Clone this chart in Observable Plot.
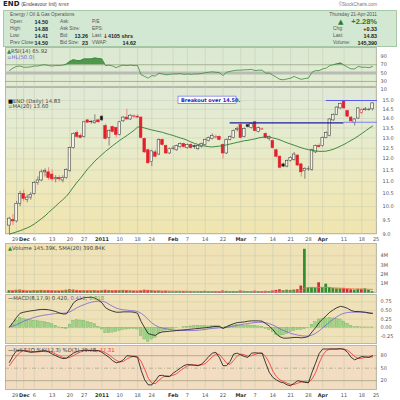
<!DOCTYPE html>
<html><head><meta charset="utf-8">
<script src="https://cdn.jsdelivr.net/npm/d3@7"></script>
<script src="https://cdn.jsdelivr.net/npm/@observablehq/plot@0.6"></script>
<style>
body{margin:0;background:#fff;}
#c{position:relative;width:400px;height:400px;overflow:hidden;font-family:"DejaVu Sans",Verdana,sans-serif;background:#fff;}
.a{position:absolute;white-space:nowrap;font-size:5.3px;line-height:6px;color:#444;}
.h{font-family:"Liberation Sans",Arial,sans-serif;font-size:4.8px;color:#555;}
.v{font-family:"Liberation Sans",Arial,sans-serif;font-size:5.4px;font-weight:bold;color:#222;}
.bg{position:absolute;box-sizing:border-box;}
</style></head><body><div id="c"></div>
<script>
// ---------- data ----------
const tickIdx=[2,4,7,12,17,21,26,31,36,40,46,50,55,60,65,69,74,79,84,88,94,99,103];
const tickLblPos=[1.6,4.2,7,12,17,21,26,31,36,40,46,50,55,60,65,69,74,79,84,88,94,99,103];
const tickLbl=["29","Dec","6","13","20","27","2011","10","18","24","Feb","7","14","22","Mar","7","14","21","28","Apr","11","18","25"];
const tickBold=[0,1,0,0,0,0,1,0,0,0,1,0,0,0,1,0,0,0,0,1,0,0,0];

const open=[9.30,9.50,9.45,10.10,10.50,10.25,10.35,10.50,10.95,11.05,
11.40,11.40,11.30,11.10,11.15,11.05,11.15,11.45,12.50,13.25,
13.10,13.05,13.90,13.80,13.75,13.90,14.10,13.60,13.00,13.55,
13.50,13.15,13.85,14.05,13.95,14.10,14.10,14.05,12.95,12.40,
11.85,12.30,12.20,12.90,12.60,12.25,12.50,12.40,12.55,12.70,
12.50,12.65,12.60,12.45,12.55,12.65,12.85,12.95,13.05,13.05,
12.65,12.25,12.90,13.00,13.40,13.65,13.05,13.65,13.50,13.80,
13.30,13.45,13.20,12.95,12.85,12.40,12.10,11.75,11.65,11.90,
11.95,12.15,11.75,11.45,11.55,11.50,12.30,12.60,12.60,13.00,
13.10,13.90,14.20,14.55,14.95,14.40,14.05,13.75,14.00,14.30,
14.45,14.50,14.50];
const high=[9.60,9.70,10.20,10.60,10.65,10.45,10.55,11.00,11.20,11.50,
11.55,11.60,11.50,11.25,11.25,11.25,11.55,12.55,13.25,13.35,
13.20,13.85,13.95,13.90,14.20,13.95,14.15,13.70,13.40,13.60,
13.55,13.85,14.10,14.50,14.20,14.20,14.20,14.10,13.00,12.45,
12.40,12.40,12.95,12.95,12.65,12.50,12.60,12.65,12.75,12.75,
12.70,12.70,12.65,12.65,12.75,12.95,13.05,13.20,13.15,13.10,
12.70,12.95,13.10,13.40,13.55,13.75,13.50,13.70,13.75,13.85,
13.55,13.50,13.25,13.10,12.90,12.45,12.15,11.80,11.95,12.10,
12.30,12.20,11.80,11.60,11.65,12.45,12.65,12.70,13.05,13.30,
14.00,14.25,14.65,14.85,15.00,14.45,14.10,14.00,14.60,14.55,
14.60,14.55,14.88];
const low=[9.00,9.30,9.40,10.00,10.20,10.15,10.25,10.45,10.85,11.00,
11.20,11.05,11.00,10.95,11.00,10.95,11.10,11.40,12.45,12.95,
12.95,13.00,13.75,13.70,13.70,13.75,13.85,12.90,12.60,13.25,
13.00,13.10,13.80,13.90,13.90,14.00,14.00,12.95,12.25,11.75,
11.65,12.05,12.15,12.60,12.20,12.20,12.40,12.35,12.50,12.50,
12.45,12.45,12.45,12.40,12.50,12.60,12.80,12.90,12.95,12.85,
12.00,12.20,12.85,12.95,13.30,12.95,13.00,13.50,13.45,13.30,
13.25,13.40,12.95,12.85,12.45,12.05,11.55,11.60,11.60,11.85,
11.90,11.65,11.20,11.10,11.45,11.45,12.25,12.50,12.55,12.95,
13.05,13.85,14.15,14.50,14.50,14.05,13.80,13.60,13.95,14.20,
14.40,14.40,14.41];
const close=[9.55,9.45,10.10,10.50,10.30,10.35,10.45,10.95,11.05,11.40,
11.45,11.15,11.10,11.15,11.10,11.15,11.50,12.50,13.20,13.05,
13.00,13.80,13.78,13.82,13.85,13.80,13.90,12.95,13.35,13.30,
13.15,13.80,14.05,13.95,14.15,14.12,14.05,13.00,12.30,11.80,
12.35,12.10,12.90,12.65,12.25,12.45,12.50,12.60,12.70,12.55,
12.65,12.50,12.55,12.60,12.70,12.90,13.00,13.10,13.05,12.90,
12.25,12.90,13.05,13.35,13.45,13.00,13.45,13.55,13.70,13.35,
13.50,13.45,13.00,13.05,12.50,12.10,11.60,11.65,11.90,12.05,
12.20,11.70,11.40,11.55,11.55,12.40,12.60,12.55,13.00,13.25,
13.95,14.20,14.60,14.80,14.55,14.10,13.85,13.95,14.55,14.45,
14.50,14.50,14.83];
const ma20=[9.00,9.04,9.08,9.12,9.17,9.22,9.28,9.36,9.45,9.55,
9.65,9.78,9.90,10.02,10.15,10.27,10.40,10.58,10.78,10.98,
11.15,11.35,11.55,11.72,11.90,12.05,12.20,12.35,12.48,12.62,
12.75,12.88,13.00,13.12,13.25,13.38,13.55,13.55,13.50,13.45,
13.40,13.36,13.32,13.28,13.22,13.17,13.12,13.06,13.00,12.95,
12.88,12.80,12.73,12.68,12.63,12.60,12.57,12.56,12.58,12.60,
12.62,12.66,12.70,12.74,12.78,12.82,12.86,12.88,12.92,12.95,
13.00,13.03,13.05,13.04,13.00,12.96,12.90,12.83,12.76,12.70,
12.64,12.58,12.52,12.47,12.43,12.40,12.37,12.35,12.35,12.36,
12.40,12.45,12.52,12.60,12.68,12.78,12.88,12.98,13.10,13.22,
13.35,13.48,13.60];
const volume=[0.25,0.22,0.30,0.32,0.28,0.20,0.18,0.25,0.22,0.28,
0.24,0.26,0.22,0.20,0.18,0.22,0.30,0.35,0.32,0.28,
0.22,0.25,0.20,0.22,0.26,0.18,0.24,0.30,0.26,0.22,
0.25,0.24,0.28,0.26,0.20,0.18,0.15,0.22,0.30,0.28,
0.25,0.18,0.20,0.15,0.18,0.14,0.12,0.15,0.14,0.16,
0.14,0.13,0.12,0.14,0.16,0.18,0.15,0.14,0.16,0.15,
0.22,0.18,0.15,0.17,0.16,0.22,0.18,0.16,0.15,0.20,
0.16,0.14,0.18,0.16,0.22,0.28,0.35,0.25,0.30,0.28,
0.32,0.35,0.75,4.70,0.55,0.60,0.55,1.10,0.60,0.95,
0.60,0.50,0.45,0.45,0.50,0.40,0.35,0.30,0.40,0.40,
0.45,0.30,0.15];
const volSma=[0.26,0.26,0.26,0.26,0.26,0.25,0.25,0.25,0.25,0.25,
0.25,0.25,0.25,0.25,0.25,0.25,0.25,0.26,0.26,0.26,
0.26,0.26,0.26,0.25,0.25,0.25,0.25,0.25,0.25,0.25,
0.25,0.25,0.25,0.25,0.24,0.24,0.24,0.24,0.24,0.24,
0.24,0.23,0.23,0.22,0.22,0.21,0.21,0.20,0.20,0.19,
0.19,0.18,0.18,0.17,0.17,0.17,0.16,0.16,0.16,0.16,
0.16,0.16,0.16,0.16,0.16,0.16,0.16,0.16,0.16,0.16,
0.16,0.16,0.17,0.17,0.17,0.18,0.19,0.19,0.20,0.21,
0.21,0.22,0.30,0.55,0.58,0.60,0.60,0.62,0.60,0.60,
0.58,0.56,0.54,0.52,0.50,0.48,0.46,0.44,0.43,0.42,
0.41,0.40,0.39];
const rsi=[56,62,66,67,64,64,65,67,67,69,
70,68,67,68,68,69,71,78,82,80,
80,84,84,84,86,85,84,68,69,67,
63,67,69,68,69,68,68,46,42,38,
44,43,50,48,46,47,48,48,49,47,
48,47,48,48,49,51,52,53,52,51,
44,52,54,56,57,57,58,58,59,56,
57,57,50,50,45,40,35,34,36,38,
42,38,35,37,38,52,56,56,60,62,
68,70,72,74,69,64,60,60,66,64,
64,63,66];
const macd=[0.02,0.15,0.30,0.42,0.45,0.47,0.49,0.50,0.52,0.53,
0.53,0.52,0.50,0.47,0.43,0.40,0.40,0.55,0.72,0.80,
0.84,0.87,0.88,0.88,0.86,0.80,0.72,0.58,0.52,0.48,
0.45,0.45,0.46,0.46,0.46,0.45,0.42,0.18,0.00,-0.17,
-0.20,-0.22,-0.15,-0.12,-0.11,-0.10,-0.09,-0.08,-0.07,-0.06,
-0.05,-0.04,-0.03,-0.02,-0.01,0.00,0.01,0.03,0.04,0.04,
-0.02,0.03,0.08,0.12,0.15,0.16,0.17,0.19,0.20,0.20,
0.20,0.19,0.12,0.05,-0.05,-0.18,-0.26,-0.30,-0.30,-0.29,
-0.28,-0.28,-0.29,-0.28,-0.25,-0.12,0.00,0.15,0.25,0.35,
0.45,0.52,0.58,0.62,0.60,0.56,0.50,0.47,0.47,0.46,
0.45,0.43,0.42];
const signal=[0.02,0.05,0.09,0.14,0.19,0.23,0.27,0.30,0.33,0.35,
0.37,0.38,0.40,0.41,0.42,0.42,0.43,0.46,0.52,0.58,
0.63,0.67,0.71,0.74,0.76,0.77,0.77,0.74,0.68,0.62,
0.57,0.54,0.52,0.51,0.50,0.49,0.47,0.42,0.34,0.24,
0.14,0.07,0.02,-0.01,-0.03,-0.05,-0.06,-0.07,-0.07,-0.08,
-0.08,-0.08,-0.08,-0.07,-0.06,-0.05,-0.03,-0.02,-0.01,0.00,
0.00,0.01,0.03,0.05,0.07,0.09,0.11,0.12,0.14,0.15,
0.16,0.16,0.15,0.12,0.08,0.03,-0.03,-0.08,-0.12,-0.16,
-0.19,-0.21,-0.23,-0.24,-0.24,-0.21,-0.16,-0.09,0.00,0.08,
0.17,0.25,0.32,0.38,0.42,0.44,0.45,0.45,0.45,0.45,
0.44,0.42,0.41];
const hist=[0.00,0.10,0.21,0.28,0.26,0.24,0.22,0.20,0.19,0.18,
0.16,0.14,0.10,0.06,0.01,-0.02,-0.03,0.09,0.20,0.22,
0.21,0.20,0.17,0.14,0.10,0.03,-0.05,-0.16,-0.16,-0.14,
-0.12,-0.09,-0.06,-0.05,-0.04,-0.04,-0.05,-0.24,-0.34,-0.41,
-0.34,-0.29,-0.17,-0.11,-0.08,-0.05,-0.03,-0.01,0.00,0.02,
0.03,0.04,0.05,0.05,0.05,0.05,0.04,0.05,0.05,0.04,
-0.02,0.02,0.05,0.07,0.08,0.07,0.06,0.07,0.06,0.05,
0.04,0.03,-0.03,-0.07,-0.13,-0.21,-0.23,-0.22,-0.18,-0.13,
-0.09,-0.07,-0.06,-0.04,-0.01,0.09,0.16,0.24,0.25,0.27,
0.28,0.27,0.26,0.24,0.18,0.12,0.05,0.02,0.02,0.01,
0.01,0.01,0.01];
const stoK=[64,80,92,93,92,90,88,89,90,91,
92,89,84,80,76,73,74,80,86,90,
92,93,93,92,92,92,88,82,76,68,
63,65,70,80,79,78,76,45,22,10,
10,20,32,33,30,30,38,44,50,56,
59,58,57,56,60,68,78,86,88,75,
56,56,66,84,86,82,78,76,86,87,
86,86,62,40,28,22,17,15,10,8,
14,20,18,16,15,40,62,85,96,96,
96,96,96,97,95,88,76,70,74,78,
77,76,80];
const stoD=[56,68,79,88,92,92,90,89,89,90,
91,91,88,84,80,76,74,76,80,85,
89,92,93,93,92,92,91,87,82,75,
69,65,66,72,76,79,78,66,48,26,
14,13,21,28,32,31,33,37,44,50,
55,58,58,57,58,61,69,77,84,83,
73,62,59,69,79,84,82,79,80,83,
86,86,78,63,43,30,22,18,14,11,
11,14,17,18,16,24,39,62,81,92,
96,96,96,96,96,93,86,78,73,74,
76,77,77];
// annotation levels drawn on the price panel
const annPrice=[13.77,13.80,15.00];
const annFrom=[62,94,89];
const annTo=[94,103.4,103.4];
const annColor=["#1c1ca0","#8080f0","#5a5af0"];
const noteText="Breakout over 14.50.";
const noteBox={x1:47.5,x2:63.8,y1:14.80,y2:15.22,x:48.2,y:15.0};
const priceTicks=[9.0,9.5,10.0,10.5,11.0,11.5,12.0,12.5,13.0,13.5,14.0,14.5,15.0];
const rsiTicks=[10,30,50,70,90];
const volTicks=[1,2,3,4];
const macdTicks=[-0.25,0,0.25,0.5,0.75];
const stoTicks=[20,50,80];

// ---------- layout helpers ----------
const C=document.getElementById("c");
const XL=5, XR=377, xDomain=[-1.1,103.4];
function T(x,y,html,css="",end=false,cls="a"){
  const s=document.createElement("div");s.className=cls;s.innerHTML=html;
  s.style.cssText+=`top:${y}px;${end?`right:${400-x}px`:`left:${x}px`};${css}`;
  C.appendChild(s);return s;
}
function H(x,y,txt,end=false){return T(x,y,txt,"",end,"a h");}
function V(x,y,txt,end=true){return T(x,y,txt,"",end,"a v");}
function BG(top,h,bg,border="1px solid #b8b8a8"){
  const d=document.createElement("div");d.className="bg";
  d.style.cssText=`left:${XL}px;top:${top}px;width:${XR-XL}px;height:${h}px;background:${bg};border:${border};`;
  C.appendChild(d);
}
function place(el,top){el.style.position="absolute";el.style.left="0px";el.style.top=top+"px";C.appendChild(el);}
const ticks=tickLblPos.map((x,k)=>({x,label:tickLbl[k],bold:tickBold[k]}));
const gridX=Plot.ruleX(tickIdx,{stroke:"#c4c8b0",strokeWidth:0.5});
function yLabels(vals,fmt,dx=3){return Plot.text(vals,{y:d=>d,text:fmt,frameAnchor:"right",dx,textAnchor:"start",fontSize:5,fill:"#555"});}
function xLabels(dy){return [
  Plot.text(ticks.filter(d=>!d.bold),{x:"x",text:"label",frameAnchor:"bottom",dy,fontSize:5,fill:"#555"}),
  Plot.text(ticks.filter(d=>d.bold),{x:"x",text:"label",frameAnchor:"bottom",dy,fontSize:5,fontWeight:"bold",fill:"#333"})
];}
function panel(top,h,y,marks,mb=0){
  const p=Plot.plot({width:400,height:h+mb,marginLeft:XL,marginRight:400-XR,marginTop:0,marginBottom:mb,
    x:{domain:xDomain,axis:null},y:{...y,axis:null},
    style:{background:"transparent",overflow:"visible",fontFamily:"DejaVu Sans"},marks});
  place(p,top);
}

// ---------- header ----------
const hb=document.createElement("div");hb.className="bg";
hb.style.cssText="left:3px;top:9.5px;width:394px;height:37.5px;background:#d3e8d3;border:1px solid #a7c8a7;";
C.appendChild(hb);
T(3,1,'<b style="font-size:7px;color:#222">END</b> <span style="font-family:Liberation Sans;font-size:5px">(Endeavour Intl)</span> <span style="font-size:4px">NYSE</span>',"line-height:7px;");
T(377,1.5,'©StockCharts.com',"color:#777;font-size:4.6px;font-family:Liberation Sans",true);
H(10,11.5,'Energy / Oil &amp; Gas Operations');
const rows=[["Open:","14.50","Ask:","","P/E",""],["High:","14.88","Ask Size:","","EPS:",""],["Low:","14.41","Bid:","13.26","Last:",""],["Prev Close:","14.50","Bid Size:","23","VWAP:",""]];
rows.forEach((r,k)=>{const y=18.6+k*7.2;
  H(10,y,r[0]);V(48,y,r[1]);
  H(60,y,r[2]);if(r[3])V(88,y,r[3]);
  H(92,y,r[4]);
});
T(103,39.3-7.2,'<span style="color:#d00;font-size:6px;font-weight:bold">&#8595;</span>',"line-height:7px");
V(108,18.6+2*7.2,'4105 shrs',false);
V(136,18.6+3*7.2,'14.62');
H(377,11.5,'Thursday 21-Apr-2011',true);
T(338,17.5,'<span style="color:#2a7a2a;font-size:7px">&#9650;</span>',"line-height:8px;");
T(377,17.5,'+2.28%',"color:#2a7a2a;font-weight:bold;font-size:7.5px;line-height:8px;font-family:Liberation Sans",true);
H(333,26,'Chg:');V(377,26,'+0.33');
H(333,33.2,'Last:');V(377,33.2,'14.83');
H(333,40.4,'Volume:');V(377,40.4,'145,390');

// ---------- RSI panel ----------
const rsiTop=47,rsiH=40;
BG(rsiTop,rsiH,"linear-gradient(#dbe9d3,#e2ecd2)");
const rsiRows=rsi.map((v,i)=>({i,v}));
panel(rsiTop,rsiH,{domain:[15.5,111.3]},[
  gridX,
  Plot.ruleY([50],{stroke:"#b9bcb4",strokeWidth:3}),
  Plot.ruleY([30,70],{stroke:"#8e9c7a",strokeWidth:0.7}),
  Plot.areaY(rsiRows,{x:"i",y1:70,y2:d=>Math.max(d.v,70),fill:"#3f8f3f",fillOpacity:0.9}),
  Plot.lineY(rsiRows,{x:"i",y:"v",stroke:"#3a8a3a",strokeWidth:0.8}),
  yLabels(rsiTicks,d=>String(d))
]);
T(7,48,'<span style="color:#3a8a3a">&#9650;</span>RSI(14) 65.92');
T(7,53.5,'<span style="color:#6a6ad0">&#8801;</span><span style="color:#6a6ad0">HL(50.0)</span>');

// ---------- price panel ----------
const pTop=87,pH=147;
BG(pTop,pH,"linear-gradient(#dfe9d7 0%,#e6eccd 35%,#efe7b8 75%,#f0e5b0 100%)");
const cand=close.map((c,i)=>({i,o:open[i],h:high[i],l:low[i],c,up:i===0||c>=close[i-1]}));
cand.forEach(d=>{d.col=d.up?"#454545":"#e0202a";d.wick=d.up?"#6a6a6a":"#f07070";d.top=Math.max(d.o,d.c);d.bot=Math.min(d.o,d.c);});
const ann=annPrice.map((p,k)=>({p,x1:annFrom[k],x2:annTo[k],col:annColor[k]}));
panel(pTop,pH,{type:"log",domain:[8.99,15.76]},[
  gridX,
  Plot.ruleY(priceTicks,{stroke:"#c8ccb4",strokeWidth:0.5}),
  Plot.ruleX(cand,{x:"i",y1:"top",y2:"h",stroke:"wick",strokeWidth:0.8}),
  Plot.ruleX(cand,{x:"i",y1:"l",y2:"bot",stroke:"wick",strokeWidth:0.8}),
  Plot.rect(cand.filter(d=>d.c>d.o+0.005),{x1:d=>d.i-0.36,x2:d=>d.i+0.36,y1:"bot",y2:"top",fill:"#f6f4e6",stroke:"col",strokeWidth:0.6}),
  Plot.rect(cand.filter(d=>d.c<d.o-0.005),{x1:d=>d.i-0.36,x2:d=>d.i+0.36,y1:"bot",y2:"top",fill:d=>d.up?"#111":"#e0202a",stroke:"col",strokeWidth:0.6}),
  Plot.ruleY(cand.filter(d=>Math.abs(d.c-d.o)<=0.005),{y:"c",x1:d=>d.i-0.45,x2:d=>d.i+0.45,stroke:"col",strokeWidth:0.8}),
  Plot.lineY(ma20,{x:(d,i)=>i,y:d=>d,stroke:"#2e7d32",strokeWidth:0.9}),
  Plot.ruleY(ann,{y:"p",x1:"x1",x2:"x2",stroke:"col",strokeWidth:1.1}),
  Plot.rect([noteBox],{x1:"x1",x2:"x2",y1:"y1",y2:"y2",fill:"#fff",stroke:"#5a5ad8",strokeWidth:0.6}),
  Plot.text([noteBox],{x:"x",y:"y",text:()=>noteText,textAnchor:"start",fontSize:5,fontWeight:"bold",fill:"#2323c0"}),
  yLabels(priceTicks,d=>d.toFixed(1),5),
  ...xLabels(6)
],9);
T(8,97.7,'<span style="color:#111">&#9632;</span>END (Daily) 14.83');
T(8,103.2,'<span style="color:#2e7d32">&#8801;</span>MA(20) 13.60');

// ---------- volume panel ----------
const vTop=243,vH=50;
BG(vTop,vH,"#eee2b6");
const vol=volume.map((v,i)=>({i,v,col:(i===0||close[i]>=close[i-1])?"#2f8f2f":"#d0283c"}));
panel(vTop,vH,{domain:[-0.05,5.32]},[
  gridX,
  Plot.ruleY(volTicks,{stroke:"#d2c9a4",strokeWidth:0.5}),
  Plot.rect(vol,{x1:d=>d.i-0.38,x2:d=>d.i+0.38,y1:0,y2:"v",fill:"col"}),
  Plot.lineY(volSma,{x:(d,i)=>i,y:d=>d,stroke:"#f07850",strokeWidth:0.9}),
  yLabels(volTicks,d=>d+"M")
]);
T(8,244.5,'<span style="color:#2f8f2f">&#9650;</span>Volume 145.39K, SMA(20) 390.84K');

// ---------- MACD panel ----------
const mTop=294,mH=50;
BG(mTop,mH,"#efe2b8");
panel(mTop,mH,{domain:[-0.483,0.962]},[
  gridX,
  Plot.ruleY(macdTicks,{stroke:"#d2c9a4",strokeWidth:0.5}),
  Plot.rect(hist.map((v,i)=>({i,v})),{x1:d=>d.i-0.36,x2:d=>d.i+0.36,y1:0,y2:"v",fill:"#9fd58a",stroke:"#5ea04e",strokeWidth:0.3}),
  Plot.lineY(signal,{x:(d,i)=>i,y:d=>d,stroke:"#7a60d8",strokeWidth:0.8}),
  Plot.lineY(macd,{x:(d,i)=>i,y:d=>d,stroke:"#111",strokeWidth:0.8}),
  yLabels(macdTicks,d=>d.toFixed(2))
]);
T(8,295.2,'<span style="color:#111">&#8212;</span>MACD(8,17,9) 0.420, <span style="color:#7a60d8">0.411</span>, <span style="color:#5ea04e">0.010</span>');

// ---------- Full STO panel ----------
const sTop=345,sH=45;
BG(sTop,sH,"#f2dcc2");
panel(sTop,sH,{domain:[-3.5,104.4]},[
  gridX,
  Plot.ruleY([20,80],{stroke:"#a5a27c",strokeWidth:0.8}),
  Plot.ruleY([50],{stroke:"#a5a27c",strokeWidth:0.7,strokeDasharray:"4,2,1,2"}),
  Plot.lineY(stoD,{x:(d,i)=>i,y:d=>d,stroke:"#f03030",strokeWidth:0.8}),
  Plot.lineY(stoK,{x:(d,i)=>i,y:d=>d,stroke:"#111",strokeWidth:0.8}),
  yLabels(stoTicks,d=>String(d)),
  ...xLabels(6)
],10);
T(8,347.3,'<span style="color:#111">&#8212;</span>Full STO %K(12,3) %D(3) 79.78, <span style="color:#f03030">77.31</span>');
</script></body></html>
